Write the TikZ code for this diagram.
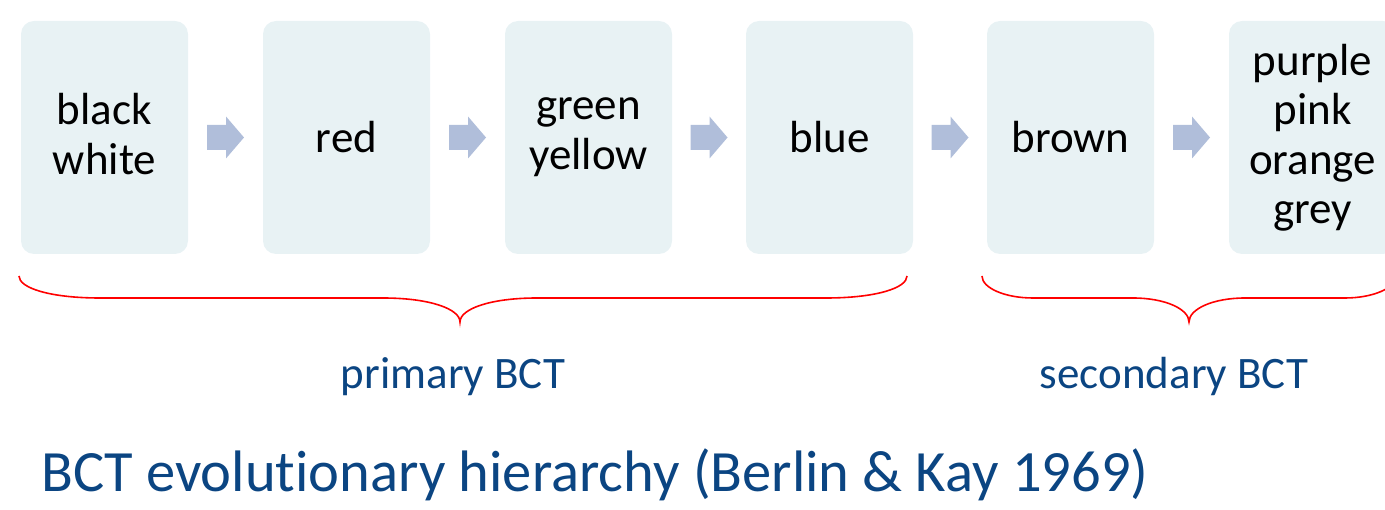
\documentclass[tikz,border=0pt]{standalone}
\usepackage{fontspec}
\setmainfont{Carlito}[Ligatures=NoCommon]
\usetikzlibrary{calc}

\definecolor{boxfill}{HTML}{E8F2F4}
\definecolor{arrowfill}{HTML}{B0BEDA}
\definecolor{labelblue}{HTML}{0B4582}
\definecolor{bracered}{HTML}{FF0000}

\tikzset{
  termbox/.style={draw=none, fill=boxfill, rounded corners=13pt,
    minimum width=167pt, minimum height=233pt, inner sep=0pt,
    align=center, font=\fontsize{45}{49.5}\selectfont,
    execute at begin node=\rule{0pt}{0.82em}, execute at end node=\vphantom{Ag}},
  stepnext/.pic={
    \fill[arrowfill] (-18.5,-12.5) -- (0.5,-12.5) -- (0.5,-21) -- (18.5,0)
      -- (0.5,21) -- (0.5,12.5) -- (-18.5,12.5) -- cycle;
  },
  curly/.style={draw=bracered, line width=1.6pt},
  grouplabel/.style={text=labelblue, anchor=base, font=\fontsize{45}{50}\selectfont},
  titletext/.style={text=labelblue, anchor=base west, font=\fontsize{58.5}{66}\selectfont}
}

\begin{document}
\begin{tikzpicture}[x=1pt, y=-1pt]
\useasboundingbox (0,0) rectangle (1385,510);
\clip (0,0) rectangle (1385,510);

% colour-term boxes
\node[termbox] (bw)     at (104.5,137.5) {black\\white};
\node[termbox] (red)    at (346.5,137.5) {red};
\node[termbox] (gy)     at (588.5,137.5) {green\\yellow};
\node[termbox] (blue)   at (829.5,137.5) {blue};
\node[termbox] (brown)  at (1070.5,137.5) {brown};
\node[termbox] (others) at (1312.5,137.5) {purple\\pink\\orange\\grey};

% arrows between stages
\coordinate (a1) at ($(bw.east)!0.5!(red.west)$);
\coordinate (a2) at ($(red.east)!0.5!(gy.west)$);
\coordinate (a3) at ($(gy.east)!0.5!(blue.west)$);
\coordinate (a4) at ($(blue.east)!0.5!(brown.west)$);
\coordinate (a5) at ($(brown.east)!0.5!(others.west)$);
\foreach \a in {a1,a2,a3,a4,a5} \pic at (\a) {stepnext};

% primary brace
\draw[curly] (19,276) .. controls (19,288) and (50,298) .. (100,298)
  -- (383,298) .. controls (430,298) and (460,309) .. (460,322)
  .. controls (460,309) and (490,298) .. (537,298)
  -- (826,298) .. controls (876,298) and (907,288) .. (907,276);

% secondary brace
\draw[curly] (982,276) .. controls (982,288) and (1005,298) .. (1033,298)
  -- (1133,298) .. controls (1165,298) and (1189,309) .. (1189,322)
  .. controls (1189,309) and (1213,298) .. (1245,298)
  -- (1345,298) .. controls (1373,298) and (1396,288) .. (1396,276);

% group labels
\node[grouplabel] (prim) at (453,389) {primary BCT};
\node[grouplabel] (sec)  at (1174,389) {secondary BCT};

% title
\node[titletext, inner sep=0pt] (title) at (41,492) {BCT evolutionary hierarchy (Berlin \& Kay 1969)};
\end{tikzpicture}
\end{document}
